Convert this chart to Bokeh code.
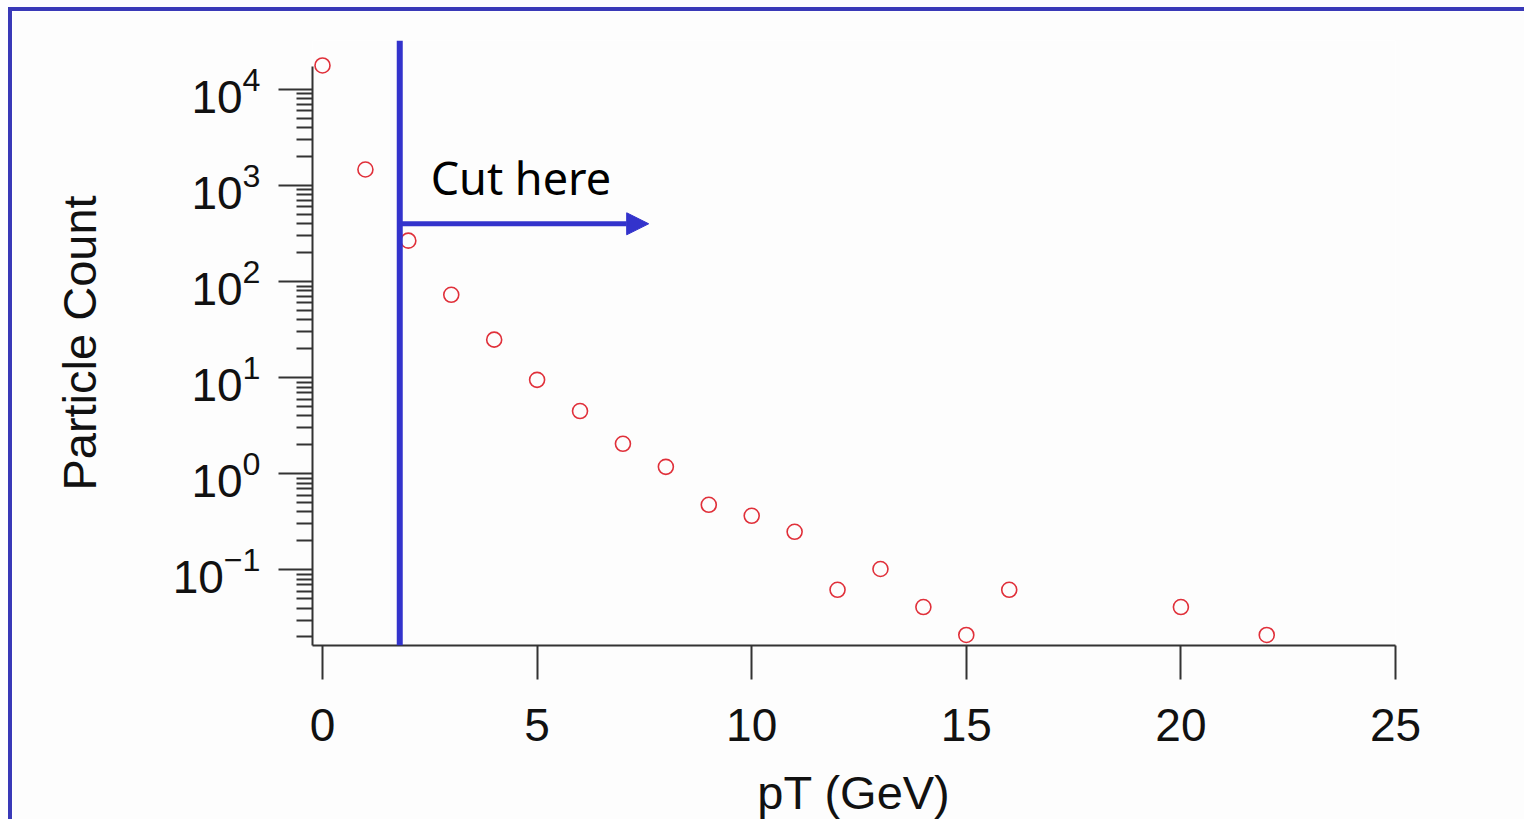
from bokeh.plotting import figure
from bokeh.models import (Range1d, FixedTicker, Span, Arrow, NormalHead, Label,
                          LogTickFormatter)
from bokeh.embed import file_html
from bokeh.resources import INLINE

# ---- data ----
pt = [0, 1, 2, 3, 4, 5, 6, 7, 8, 9, 10, 11, 12, 13, 14, 15, 16, 20, 22]
counts = [17800, 1470, 267, 73, 24.9, 9.5, 4.5, 2.05, 1.18, 0.475, 0.365,
          0.249, 0.062, 0.102, 0.041, 0.021, 0.062, 0.041, 0.021]
x_ticks = [0, 5, 10, 15, 20, 25]
y_major = [0.1, 1, 10, 100, 1000, 10000]
y_minor = [m * 10.0 ** k for k in range(-2, 4) for m in range(2, 10)]
cut_pt = 1.8
arrow_end = 7.6
arrow_level = 400
cut_label = "Cut here"

BLUE = "#3333cc"
RED = "#e0303a"
AX = "#333333"

W, H = 1516, 812
p = figure(width=W, height=H, output_backend="svg", toolbar_location=None,
           y_axis_type="log",
           x_range=Range1d(-0.233, 25), y_range=Range1d(0.0163, 32370),
           min_border_left=300, min_border_right=W - 1383,
           min_border_top=29, min_border_bottom=H - 634,
           background_fill_color="#fdfdfd", border_fill_color="#fdfdfd")
p.styles = {"border-top": "4px solid #3a3ab8", "border-left": "4px solid #3a3ab8",
            "margin-left": "8px", "margin-top": "7px"}
p.outline_line_color = None
p.grid.grid_line_color = None

# x axis
xa = p.xaxis[0]
xa.ticker = FixedTicker(ticks=x_ticks, minor_ticks=[])
xa.axis_line_color = AX
xa.axis_line_width = 2
xa.major_tick_line_color = AX
xa.major_tick_line_width = 2
xa.major_tick_in = 0
xa.major_tick_out = 34
xa.major_label_text_font = "Liberation Sans"
xa.major_label_text_font_size = "46px"
xa.major_label_text_color = "#111111"
xa.major_label_standoff = 29
xa.axis_label = "pT (GeV)"
xa.axis_label_text_font = "Liberation Sans"
xa.axis_label_text_font_size = "47px"
xa.axis_label_text_font_style = "normal"
xa.axis_label_text_color = "#111111"
xa.axis_label_standoff = 22

# y axis
ya = p.yaxis[0]
ya.ticker = FixedTicker(ticks=y_major, minor_ticks=y_minor)
ya.formatter = LogTickFormatter()
ya.bounds = (0.0163, 17380)
ya.axis_line_color = AX
ya.axis_line_width = 2
ya.major_tick_line_color = AX
ya.major_tick_line_width = 2
ya.major_tick_in = 0
ya.major_tick_out = 34
ya.minor_tick_line_color = AX
ya.minor_tick_line_width = 2
ya.minor_tick_in = 0
ya.minor_tick_out = 16
ya.major_label_text_font = "Liberation Sans"
ya.major_label_text_font_size = "46px"
ya.major_label_text_color = "#111111"
ya.major_label_standoff = 18
ya.axis_label = "Particle Count"
ya.axis_label_text_font = "Liberation Sans"
ya.axis_label_text_font_size = "47px"
ya.axis_label_text_font_style = "normal"
ya.axis_label_text_color = "#111111"
ya.axis_label_standoff = 64

# data
p.scatter(pt, counts, marker="circle", size=15, fill_color=None,
          line_color=RED, line_width=1.6)

# cut annotation
p.add_layout(Span(location=cut_pt, dimension="height", line_color=BLUE,
                  line_width=6))
p.add_layout(Arrow(x_start=cut_pt, y_start=arrow_level, x_end=arrow_end,
                   y_end=arrow_level, line_color=BLUE, line_width=5,
                   end=NormalHead(size=22, fill_color=BLUE, line_color=BLUE)))
p.add_layout(Label(x=cut_pt + 0.72, y=arrow_level * 3.0, text=cut_label,
                   text_font="Noto Sans", text_font_size="45px",
                   text_color="#000000", text_baseline="alphabetic"))

open("out.html", "w").write(file_html(p, INLINE))
